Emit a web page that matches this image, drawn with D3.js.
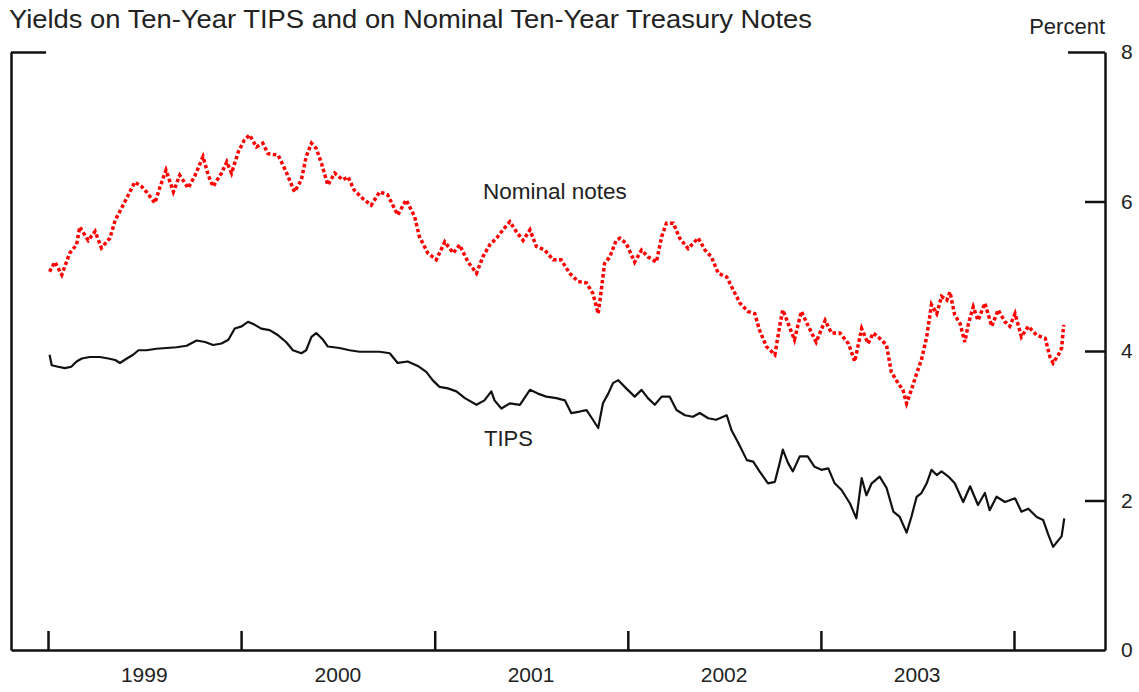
<!DOCTYPE html>
<html>
<head>
<meta charset="utf-8">
<script src="https://cdn.jsdelivr.net/npm/d3@7"></script>
<style>
  html, body { margin: 0; padding: 0; background: #fff; }
  svg { display: block; font-family: "Liberation Sans", Arial, sans-serif; }
  .axis path, .axis line { stroke: #111; stroke-width: 2.5; }
  .axis text { font-size: 21px; fill: #222; }
</style>
</head>
<body>
<svg id="chart" width="1139" height="692"></svg>
<script>
// nominal ten-year Treasury note yields (percent)
const nominalDates = [
  '1999-01-04','1999-01-14','1999-01-27','1999-02-11','1999-02-24','1999-03-02','1999-03-18','1999-03-31',
  '1999-04-12','1999-04-28','1999-05-08','1999-05-20','1999-06-02','1999-06-14','1999-06-27','1999-07-06',
  '1999-07-22','1999-08-01','1999-08-12','1999-08-26','1999-09-07','1999-09-23','1999-10-06','1999-10-21',
  '1999-10-31','1999-11-09','1999-11-25','1999-12-05','1999-12-14','1999-12-27','2000-01-07','2000-01-17',
  '2000-01-30','2000-02-11','2000-02-21','2000-03-11','2000-03-26','2000-04-11','2000-04-24','2000-05-03',
  '2000-05-13','2000-05-22','2000-06-01','2000-06-13','2000-06-26','2000-07-11','2000-07-21','2000-08-02',
  '2000-08-18','2000-09-03','2000-09-19','2000-10-04','2000-10-23','2000-11-08','2000-11-24','2000-12-03',
  '2000-12-19','2001-01-04','2001-01-20','2001-02-05','2001-02-17','2001-03-05','2001-03-21','2001-04-02',
  '2001-04-15','2001-04-28','2001-05-10','2001-05-23','2001-06-04','2001-06-17','2001-06-30','2001-07-12',
  '2001-07-28','2001-08-13','2001-08-28','2001-09-13','2001-09-29','2001-10-15','2001-10-27','2001-11-06',
  '2001-11-12','2001-11-18','2001-11-28','2001-12-10','2001-12-17','2001-12-29','2002-01-14','2002-01-27',
  '2002-02-08','2002-02-24','2002-03-06','2002-03-15','2002-03-28','2002-04-09','2002-04-25','2002-05-14',
  '2002-05-27','2002-06-08','2002-06-21','2002-07-07','2002-07-19','2002-08-01','2002-08-16','2002-08-29',
  '2002-09-07','2002-09-20','2002-10-06','2002-10-15','2002-10-21','2002-10-31','2002-11-12','2002-11-25',
  '2002-12-07','2002-12-23','2003-01-09','2003-01-21','2003-02-06','2003-02-22','2003-03-06','2003-03-19',
  '2003-03-31','2003-04-10','2003-04-22','2003-05-05','2003-05-14','2003-05-27','2003-06-05','2003-06-12',
  '2003-06-21','2003-07-01','2003-07-10','2003-07-20','2003-07-29','2003-08-08','2003-08-17','2003-08-27',
  '2003-09-02','2003-09-11','2003-09-21','2003-09-30','2003-10-07','2003-10-16','2003-10-25','2003-11-07',
  '2003-11-20','2003-12-02','2003-12-15','2003-12-24','2004-01-03','2004-01-15','2004-01-28','2004-02-13',
  '2004-02-29','2004-03-09','2004-03-15','2004-03-25','2004-03-31','2004-04-04'
];
const nominalYields = [
  5.06,5.19,5.02,5.31,5.42,5.66,5.48,5.60,
  5.38,5.51,5.75,5.91,6.09,6.26,6.20,6.13,
  5.98,6.20,6.42,6.13,6.35,6.18,6.35,6.60,
  6.35,6.20,6.38,6.53,6.38,6.67,6.82,6.89,
  6.73,6.78,6.64,6.62,6.40,6.13,6.29,6.60,
  6.78,6.71,6.51,6.22,6.38,6.29,6.33,6.15,
  6.04,5.95,6.13,6.09,5.82,6.02,5.80,5.53,
  5.31,5.22,5.46,5.31,5.42,5.19,5.04,5.26,
  5.42,5.51,5.62,5.73,5.60,5.48,5.62,5.40,
  5.35,5.22,5.22,5.04,4.93,4.91,4.77,4.50,
  4.82,5.17,5.26,5.48,5.51,5.44,5.19,5.35,
  5.26,5.19,5.53,5.71,5.71,5.51,5.37,5.51,
  5.35,5.26,5.04,4.99,4.82,4.64,4.53,4.50,
  4.28,4.06,3.95,4.33,4.55,4.37,4.15,4.53,
  4.35,4.12,4.41,4.24,4.24,4.10,3.86,4.30,
  4.10,4.24,4.17,4.08,3.72,3.57,3.48,3.30,
  3.48,3.70,3.88,4.19,4.62,4.50,4.73,4.68,
  4.79,4.48,4.37,4.12,4.37,4.59,4.41,4.64,
  4.33,4.55,4.39,4.33,4.50,4.19,4.33,4.21,
  4.17,3.92,3.84,3.95,4.04,4.35
];

// ten-year TIPS yields (percent)
const tipsDates = [
  '1999-01-04','1999-01-08','1999-01-20','1999-02-02','1999-02-14','1999-02-24','1999-03-06','1999-03-21',
  '1999-04-09','1999-04-25','1999-05-08','1999-05-17','1999-05-30','1999-06-11','1999-06-21','1999-07-06',
  '1999-07-25','1999-08-13','1999-09-01','1999-09-20','1999-10-09','1999-10-25','1999-11-09','1999-11-25',
  '1999-12-08','1999-12-20','2000-01-02','2000-01-14','2000-01-27','2000-02-08','2000-02-24','2000-03-11',
  '2000-03-26','2000-04-08','2000-04-24','2000-05-03','2000-05-13','2000-05-22','2000-06-04','2000-06-13',
  '2000-07-05','2000-07-24','2000-08-12','2000-08-31','2000-09-19','2000-10-08','2000-10-23','2000-11-11',
  '2000-11-30','2000-12-16','2000-12-28','2001-01-10','2001-01-26','2001-02-11','2001-02-27','2001-03-21',
  '2001-04-05','2001-04-18','2001-04-24','2001-05-07','2001-05-23','2001-06-11','2001-06-30','2001-07-15',
  '2001-07-31','2001-08-19','2001-09-04','2001-09-16','2001-10-02','2001-10-15','2001-10-27','2001-11-06',
  '2001-11-15','2001-11-25','2001-12-04','2001-12-14','2001-12-29','2002-01-14','2002-01-27','2002-02-08',
  '2002-02-21','2002-03-06','2002-03-21','2002-04-03','2002-04-19','2002-05-04','2002-05-17','2002-06-02',
  '2002-06-17','2002-07-07','2002-07-16','2002-07-29','2002-08-14','2002-08-26','2002-09-07','2002-09-23',
  '2002-10-06','2002-10-15','2002-10-21','2002-10-31','2002-11-09','2002-11-22','2002-12-07','2002-12-20',
  '2003-01-02','2003-01-15','2003-01-27','2003-02-09','2003-02-25','2003-03-09','2003-03-19','2003-03-28',
  '2003-04-07','2003-04-22','2003-05-05','2003-05-18','2003-05-30','2003-06-12','2003-06-21','2003-07-01',
  '2003-07-10','2003-07-20','2003-07-29','2003-08-08','2003-08-17','2003-08-30','2003-09-11','2003-09-27',
  '2003-10-10','2003-10-25','2003-11-07','2003-11-16','2003-11-29','2003-12-15','2004-01-03','2004-01-15',
  '2004-01-28','2004-02-13','2004-02-25','2004-03-06','2004-03-15','2004-03-25','2004-03-31','2004-04-05'
];
const tipsYields = [
  3.95,3.81,3.79,3.77,3.79,3.86,3.90,3.92,
  3.92,3.90,3.88,3.84,3.90,3.95,4.01,4.01,
  4.03,4.04,4.05,4.07,4.14,4.12,4.08,4.10,
  4.15,4.30,4.33,4.39,4.35,4.30,4.28,4.21,
  4.12,4.01,3.97,4.01,4.19,4.24,4.15,4.06,
  4.04,4.01,3.99,3.99,3.99,3.97,3.84,3.86,
  3.80,3.72,3.61,3.52,3.50,3.46,3.37,3.28,
  3.34,3.46,3.34,3.23,3.30,3.28,3.48,3.43,
  3.39,3.37,3.34,3.17,3.19,3.21,3.08,2.97,
  3.30,3.43,3.57,3.61,3.50,3.39,3.48,3.37,
  3.28,3.39,3.39,3.21,3.14,3.12,3.17,3.10,
  3.08,3.14,2.94,2.77,2.54,2.52,2.39,2.23,
  2.25,2.50,2.68,2.50,2.39,2.59,2.59,2.45,
  2.41,2.43,2.23,2.14,1.96,1.76,2.30,2.07,
  2.23,2.32,2.17,1.85,1.78,1.57,1.78,2.05,
  2.10,2.23,2.41,2.34,2.39,2.32,2.23,1.98,
  2.19,1.94,2.10,1.87,2.05,1.98,2.03,1.85,
  1.89,1.78,1.74,1.54,1.38,1.47,1.52,1.76
];

const yearTicks = [1999, 2000, 2001, 2002, 2003, 2004];
const yearLabels = ['1999', '2000', '2001', '2002', '2003'];
const yTicks = [0, 2, 4, 6, 8];

const parse = d3.utcParse('%Y-%m-%d');
const nominal = nominalDates.map((d, i) => ({ date: parse(d), value: nominalYields[i] }));
const tips = tipsDates.map((d, i) => ({ date: parse(d), value: tipsYields[i] }));

const svg = d3.select('#chart');
const frame = { left: 11, right: 1105, top: 52, bottom: 650 };

// year starts sit at fixed spots; the frame runs a bit past them on both sides
const x = d3.scaleUtc()
  .domain([new Date(Date.UTC(1999, 0, 1)), new Date(Date.UTC(2004, 0, 1))])
  .range([48, 1014]);
x.domain([x.invert(frame.left), x.invert(frame.right)]).range([frame.left, frame.right]);

const y = d3.scaleLinear().domain([0, 8]).range([frame.bottom, frame.top]);

// bottom axis, ticks pointing up
svg.append('g')
  .attr('class', 'axis x-axis')
  .attr('transform', 'translate(0,' + frame.bottom + ')')
  .call(d3.axisBottom(x)
    .tickValues(yearTicks.map(yr => new Date(Date.UTC(yr, 0, 1))))
    .tickSizeInner(-19)
    .tickSizeOuter(0)
    .tickFormat(''));

svg.selectAll('.year-label')
  .data(yearLabels)
  .enter()
  .append('text')
  .attr('class', 'year-label')
  .attr('x', d => x(new Date(Date.UTC(+d, 6, 2))))
  .attr('y', 682)
  .attr('text-anchor', 'middle')
  .style('font-size', '21px')
  .style('fill', '#222')
  .text(d => d);

// right axis, ticks pointing in, labels outside
const yAxis = svg.append('g')
  .attr('class', 'axis y-axis')
  .attr('transform', 'translate(' + frame.right + ',0)')
  .call(d3.axisRight(y)
    .tickValues(yTicks)
    .tickSizeInner(-20)
    .tickSizeOuter(0)
    .tickPadding(16)
    .tickFormat(d3.format('d')));
yAxis.selectAll('.tick')
  .filter(d => d === 0)
  .select('line')
  .remove();
yAxis.selectAll('.tick')
  .filter(d => d === 8)
  .select('line')
  .attr('x2', -37);

// left side of frame
svg.append('g')
  .attr('class', 'axis y-axis-left')
  .attr('transform', 'translate(' + frame.left + ',0)')
  .call(d3.axisLeft(y)
    .tickValues([8])
    .tickSizeInner(-35)
    .tickSizeOuter(0)
    .tickFormat(''));

const line = d3.line()
  .x(d => x(d.date))
  .y(d => y(d.value));

svg.append('path')
  .datum(tips)
  .attr('fill', 'none')
  .attr('stroke', '#111')
  .attr('stroke-width', 2.2)
  .attr('stroke-linejoin', 'round')
  .attr('d', line);

svg.append('path')
  .datum(nominal)
  .attr('fill', 'none')
  .attr('stroke', '#ff0000')
  .attr('stroke-width', 3.5)
  .attr('stroke-dasharray', '3.5,2.5')
  .attr('d', line);

// labels
svg.append('text')
  .attr('x', 9)
  .attr('y', 28)
  .attr('textLength', 803)
  .attr('lengthAdjust', 'spacingAndGlyphs')
  .style('font-size', '26px')
  .style('fill', '#222')
  .text('Yields on Ten-Year TIPS and on Nominal Ten-Year Treasury Notes');

svg.append('text')
  .attr('x', 1105)
  .attr('y', 34)
  .attr('text-anchor', 'end')
  .style('font-size', '22px')
  .style('fill', '#222')
  .text('Percent');

svg.append('text')
  .attr('x', 483)
  .attr('y', 199)
  .style('font-size', '22.5px')
  .style('fill', '#222')
  .text('Nominal notes');

svg.append('text')
  .attr('x', 484)
  .attr('y', 446)
  .style('font-size', '22px')
  .style('fill', '#222')
  .text('TIPS');
</script>
</body>
</html>
